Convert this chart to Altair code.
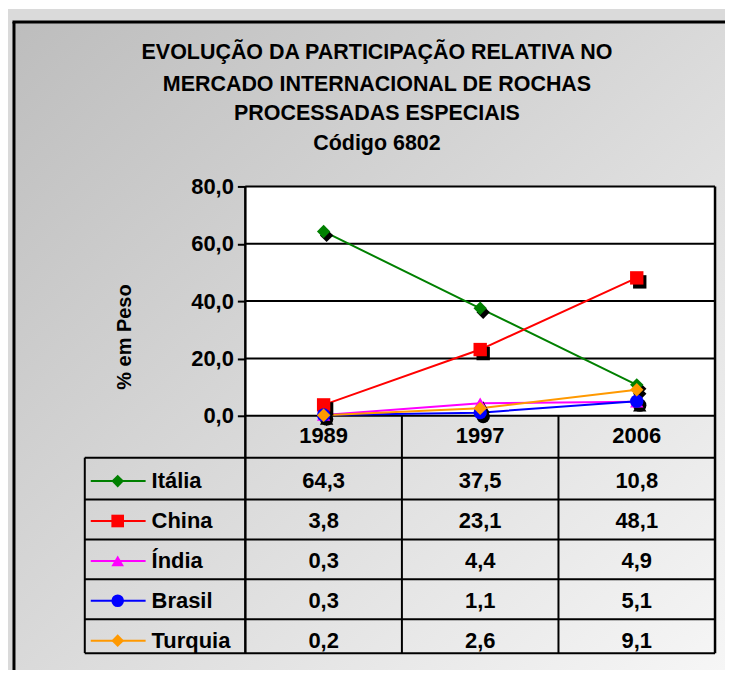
import altair as alt
import pandas as pd

# ---------------- data ----------------
YEARS = ["1989", "1997", "2006"]
SERIES = ["Itália", "China", "Índia", "Brasil", "Turquia"]
ITALIA = [64.3, 37.5, 10.8]
CHINA = [3.8, 23.1, 48.1]
INDIA = [0.3, 4.4, 4.9]
BRASIL = [0.3, 1.1, 5.1]
TURQUIA = [0.2, 2.6, 9.1]
COLORS = ["#008000", "#ff0000", "#ff00ff", "#0000ff", "#ff9900"]
SHAPES = ["diamond", "square", "triangle-up", "circle", "diamond"]
Y_TICKS = [0, 20, 40, 60, 80]
GRID_VALUES = [20, 40, 60, 80]
TITLE_LINES = [
    "EVOLUÇÃO DA PARTICIPAÇÃO RELATIVA NO",
    "MERCADO INTERNACIONAL DE ROCHAS",
    "PROCESSADAS ESPECIAIS",
    "Código 6802",
]
Y_TITLE = "% em Peso"

rows = []
for s, vals in zip(SERIES, [ITALIA, CHINA, INDIA, BRASIL, TURQUIA]):
    for yr, v in zip(YEARS, vals):
        rows.append({"series": s, "year": yr, "value": v,
                     "label": f"{v:.1f}".replace(".", ",")})
df = pd.DataFrame(rows)
df_series = pd.DataFrame({"series": SERIES})
df_years = pd.DataFrame({"year": YEARS})
df_grid = pd.DataFrame({"value": GRID_VALUES})
one = pd.DataFrame({"k": [0]})

# ---------------- layout (pixels, relative to plot origin) ----------------
W, H = 471, 230
FONT = "Liberation Sans"
FS = 22
TABLE_LEFT = -161
ROW_BOUNDS = [272, 314, 354, 394, 434, 468]
ROW_CENTERS = [295.5, 455.5]
COL_LINES = [157, 314]
HEADER_Y = 250

x_enc = alt.X("year:N", scale=alt.Scale(type="point", domain=YEARS, padding=0.5), axis=None)
y_axis = alt.Axis(
    values=Y_TICKS,
    labelExpr="replace(format(datum.value, '.1f'), '.', ',')",
    labelFont=FONT, labelFontSize=FS, labelFontWeight="bold", labelColor="black",
    tickColor="black", tickSize=8, tickWidth=2, domain=False, grid=False,
    title=None, labelPadding=4, zindex=1,
)
yq = alt.Y("value:Q", scale=alt.Scale(domain=[0, 80], nice=False, zero=True), axis=y_axis)
color_enc = alt.Color("series:N", scale=alt.Scale(domain=SERIES, range=COLORS), legend=None)
shape_enc = alt.Shape("series:N", scale=alt.Scale(domain=SERIES, range=SHAPES), legend=None)
y_row = alt.Y("series:N", scale=alt.Scale(type="point", domain=SERIES, range=ROW_CENTERS, padding=0), axis=None)


def box(x, x2, y, y2, **kw):
    return alt.Chart(one).mark_rect(**kw).encode(
        x=alt.value(x), x2=alt.value(x2), y=alt.value(y), y2=alt.value(y2))


def hrule(y, x1, x2, w=2):
    return alt.Chart(one).mark_rule(color="black", strokeWidth=w).encode(
        x=alt.value(x1), x2=alt.value(x2), y=alt.value(y))


def vrule(x, y1, y2, w=2):
    return alt.Chart(one).mark_rule(color="black", strokeWidth=w).encode(
        x=alt.value(x), y=alt.value(y1), y2=alt.value(y2))


grad = alt.Gradient(
    gradient="linear",
    stops=[alt.GradientStop(color="#bdbdbd", offset=0),
           alt.GradientStop(color="#f6f6f6", offset=1)],
    x1=0, y1=0, x2=1, y2=1,
)

background = [
    box(-238, 481, -178, 485, color="#dadada"),
    box(-232, 481, -165, 485, fill=grad),
    vrule(-232, -165, 485, 3),
    hrule(-165, -233.5, 481, 3),
    box(0, W, 0, H, color="white"),
]

grid = alt.Chart(df_grid).mark_rule(color="black", strokeWidth=2).encode(
    x=alt.value(0), x2=alt.value(W), y=yq)

table_lines = [hrule(H, 0, W)]
for yb in ROW_BOUNDS:
    table_lines.append(hrule(yb, TABLE_LEFT, W))
table_lines.append(vrule(TABLE_LEFT, ROW_BOUNDS[0], ROW_BOUNDS[-1]))
for xc in COL_LINES:
    table_lines.append(vrule(xc, H, ROW_BOUNDS[-1]))
table_lines.append(vrule(W, 0, ROW_BOUNDS[-1], 2.5))
table_lines.append(vrule(0, 0, ROW_BOUNDS[-1], 2.5))

lines = alt.Chart(df).mark_line(strokeWidth=2).encode(
    x=x_enc, y=yq, color=color_enc, detail="series:N")
shadows = alt.Chart(df).mark_point(filled=True, size=180, opacity=1, color="black").encode(
    x=x_enc, y=yq, shape=shape_enc, xOffset=alt.value(3), yOffset=alt.value(4))
points = alt.Chart(df).mark_point(filled=True, size=180, opacity=1).encode(
    x=x_enc, y=yq, shape=shape_enc, color=color_enc)

txt = dict(font=FONT, fontSize=FS, fontWeight="bold", color="black", baseline="middle")

titles = []
for line, ty in zip(TITLE_LINES, [-134, -102, -73, -43]):
    titles.append(alt.Chart(one).mark_text(align="center", **{**txt, "fontSize": 21.5}).encode(
        x=alt.value(132), y=alt.value(ty), text=alt.value(line)))
titles.append(alt.Chart(one).mark_text(align="center", angle=270, **{**txt, "fontSize": 20}).encode(
    x=alt.value(-121), y=alt.value(151), text=alt.value(Y_TITLE)))

header = alt.Chart(df_years).mark_text(align="center", **txt).encode(
    x=x_enc, y=alt.value(HEADER_Y), text="year:N")

plot_group = alt.layer(*background, grid, *table_lines, lines, shadows, points, header, *titles)

cells = alt.Chart(df).mark_text(align="center", **txt).encode(
    x=x_enc, y=y_row, text="label:N")
leg_rule = alt.Chart(df_series).mark_rule(strokeWidth=2).encode(
    x=alt.value(-155), x2=alt.value(-100), y=y_row, color=color_enc)
leg_point = alt.Chart(df_series).mark_point(filled=True, size=160, opacity=1).encode(
    x=alt.value(-128), y=y_row, color=color_enc, shape=shape_enc)
leg_text = alt.Chart(df_series).mark_text(align="left", **txt).encode(
    x=alt.value(-94), y=y_row, text="series:N")

table_group = alt.layer(cells, leg_rule, leg_point, leg_text)

chart = alt.layer(plot_group, table_group).resolve_scale(y="independent").properties(
    width=W, height=H, padding=0
).configure_view(strokeWidth=0)

chart.save("out.html", embed_options={"renderer": "svg", "actions": False})
